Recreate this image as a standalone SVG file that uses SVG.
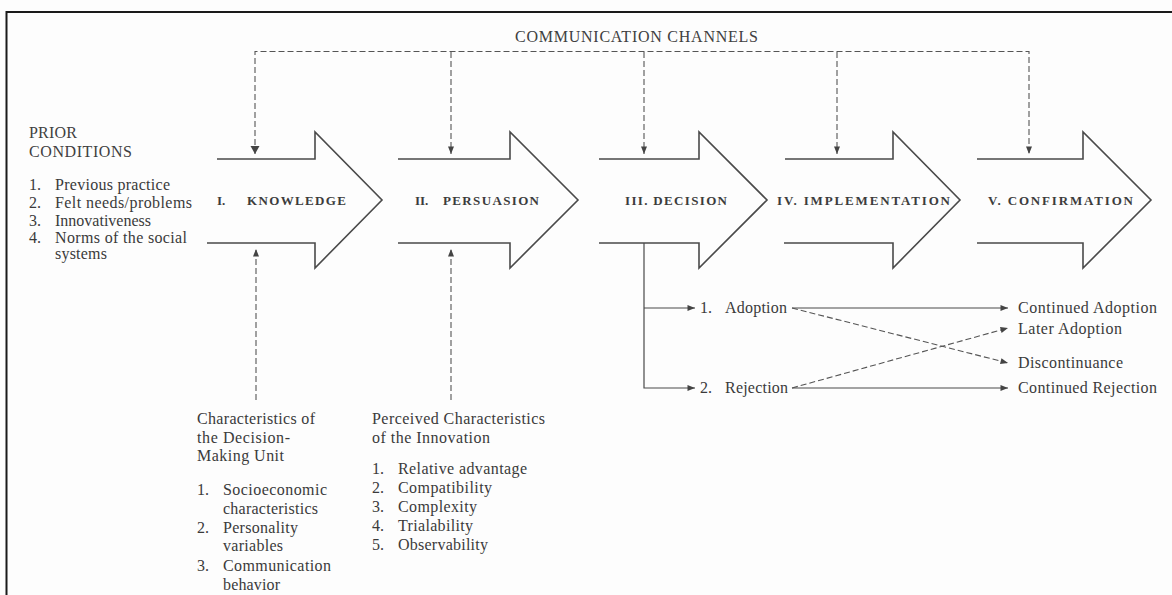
<svg xmlns="http://www.w3.org/2000/svg" width="1172" height="595" viewBox="0 0 1172 595">
<defs>
<marker id="ah" viewBox="0 0 10 8" refX="10" refY="4" markerWidth="9" markerHeight="6" orient="auto" markerUnits="userSpaceOnUse"><path d="M0,0 L10,4 L0,8 Z" fill="#444"/></marker>
</defs>
<style>
.t{font-family:"Liberation Serif","Times New Roman",serif;font-size:16px;fill:#3a3a3a}
.h{font-family:"Liberation Serif","Times New Roman",serif;font-size:16px;fill:#404040}
.b{font-family:"Liberation Serif","Times New Roman",serif;font-size:13px;font-weight:bold;fill:#3c3c3c}
.o{font-family:"Liberation Serif","Times New Roman",serif;font-size:16px;fill:#3a3a3a}
.arrow{fill:none;stroke:#4a4a4a;stroke-width:1.6;stroke-linejoin:miter}
.dash{fill:none;stroke:#555;stroke-width:1.1;stroke-dasharray:6 3}
.solid{fill:none;stroke:#4a4a4a;stroke-width:1.2}
.frame{fill:none;stroke:#1a1a1a;stroke-width:2}
</style>
<rect width="1172" height="595" fill="#fdfdfd"/>
<path class="frame" d="M6.5,595 V12 H1172"/>

<g id="comm-channels">
<text class="h" x="515" y="42" textLength="243" lengthAdjust="spacing">COMMUNICATION CHANNELS</text>
</g>

<g id="prior-conditions">
<text class="h" x="29" y="138" textLength="48" lengthAdjust="spacing">PRIOR</text>
<text class="h" x="29" y="157" textLength="103" lengthAdjust="spacing">CONDITIONS</text>
<text class="t" x="29" y="190">1.</text><text class="t" x="55" y="190" textLength="115" lengthAdjust="spacing">Previous practice</text>
<text class="t" x="29" y="208">2.</text><text class="t" x="55" y="208" textLength="137" lengthAdjust="spacing">Felt needs/problems</text>
<text class="t" x="29" y="226">3.</text><text class="t" x="55" y="226">Innovativeness</text>
<text class="t" x="29" y="243">4.</text><text class="t" x="55" y="243" textLength="132" lengthAdjust="spacing">Norms of the social</text>
<text class="t" x="55" y="259" textLength="52" lengthAdjust="spacing">systems</text>
</g>

<g id="knowledge">
<path class="arrow" d="M217,159 H315 V132 L382,200 L315,268 V243 H207"/>
<text class="b" x="217" y="205">I.</text>
<text class="b" x="247" y="205" textLength="99" lengthAdjust="spacing">KNOWLEDGE</text>
</g>

<g id="persuasion">
<path class="arrow" d="M398,159 H510 V132 L578,200 L510,268 V243 H398"/>
<text class="b" x="415" y="205">II.</text>
<text class="b" x="443" y="205" textLength="96" lengthAdjust="spacing">PERSUASION</text>
</g>

<g id="decision">
<path class="arrow" d="M599,159 H699 V132 L767,200 L699,268 V243 H599"/>
<text class="b" x="625" y="205" textLength="102" lengthAdjust="spacing">III. DECISION</text>
</g>

<g id="implementation">
<path class="arrow" d="M785,159 H893 V132 L960,200 L893,268 V243 H784"/>
<text class="b" x="777" y="205" textLength="173" lengthAdjust="spacing">IV. IMPLEMENTATION</text>
</g>

<g id="confirmation">
<path class="arrow" d="M977,159 H1083 V132 L1151,200 L1083,268 V243 H977"/>
<text class="b" x="988" y="205" textLength="145" lengthAdjust="spacing">V. CONFIRMATION</text>
</g>

<g id="dmu-characteristics">
<text class="t" x="197" y="424" textLength="118" lengthAdjust="spacing">Characteristics of</text>
<text class="t" x="197" y="443" textLength="93" lengthAdjust="spacing">the Decision-</text>
<text class="t" x="197" y="461" textLength="87" lengthAdjust="spacing">Making Unit</text>
<text class="t" x="197" y="495">1.</text><text class="t" x="223" y="495" textLength="104" lengthAdjust="spacing">Socioeconomic</text>
<text class="t" x="223" y="514" textLength="95" lengthAdjust="spacing">characteristics</text>
<text class="t" x="197" y="533">2.</text><text class="t" x="223" y="533" textLength="75" lengthAdjust="spacing">Personality</text>
<text class="t" x="223" y="551" textLength="60" lengthAdjust="spacing">variables</text>
<text class="t" x="197" y="571">3.</text><text class="t" x="223" y="571" textLength="108" lengthAdjust="spacing">Communication</text>
<text class="t" x="223" y="590" textLength="57" lengthAdjust="spacing">behavior</text>
</g>

<g id="innovation-characteristics">
<text class="t" x="372" y="424" textLength="173" lengthAdjust="spacing">Perceived Characteristics</text>
<text class="t" x="372" y="443" textLength="118" lengthAdjust="spacing">of the Innovation</text>
<text class="t" x="372" y="474">1.</text><text class="t" x="398" y="474" textLength="129" lengthAdjust="spacing">Relative advantage</text>
<text class="t" x="372" y="493">2.</text><text class="t" x="398" y="493" textLength="94" lengthAdjust="spacing">Compatibility</text>
<text class="t" x="372" y="512">3.</text><text class="t" x="398" y="512" textLength="79" lengthAdjust="spacing">Complexity</text>
<text class="t" x="372" y="531">4.</text><text class="t" x="398" y="531" textLength="75" lengthAdjust="spacing">Trialability</text>
<text class="t" x="372" y="550">5.</text><text class="t" x="398" y="550" textLength="90" lengthAdjust="spacing">Observability</text>
</g>

<g id="adoption">
<text class="o" x="700" y="313">1.</text>
<text class="o" x="725" y="313" textLength="62" lengthAdjust="spacing">Adoption</text>
</g>
<g id="rejection">
<text class="o" x="700" y="393">2.</text>
<text class="o" x="725" y="393" textLength="63" lengthAdjust="spacing">Rejection</text>
</g>
<g id="continued-adoption"><text class="o" x="1018" y="313" textLength="139" lengthAdjust="spacing">Continued Adoption</text></g>
<g id="later-adoption"><text class="o" x="1018" y="334" textLength="104" lengthAdjust="spacing">Later Adoption</text></g>
<g id="discontinuance"><text class="o" x="1018" y="368" textLength="105" lengthAdjust="spacing">Discontinuance</text></g>
<g id="continued-rejection"><text class="o" x="1018" y="393" textLength="139" lengthAdjust="spacing">Continued Rejection</text></g>

<g id="connectors">
<path class="dash" d="M255,154 V51.5 H1029 V154" marker-end="url(#ah)"/>
<path class="dash" d="M451,52 V154" marker-end="url(#ah)"/>
<path class="dash" d="M644,52 V154" marker-end="url(#ah)"/>
<path class="dash" d="M837,52 V154" marker-end="url(#ah)"/>
<path d="M250.5,146 L255,154 L259.5,146 Z" fill="#444"/>
<path class="dash" d="M256,400 V249" marker-end="url(#ah)"/>
<path class="dash" d="M451,400 V249" marker-end="url(#ah)"/>
<path class="solid" d="M644,243 V388 H695" marker-end="url(#ah)"/>
<path class="solid" d="M644,308 H695" marker-end="url(#ah)"/>
<path class="solid" d="M792,308 H1008" marker-end="url(#ah)"/>
<path class="solid" d="M792,388 H1008" marker-end="url(#ah)"/>
<path class="dash" d="M792,308 L1008,363" marker-end="url(#ah)"/>
<path class="dash" d="M792,388 L1008,328" marker-end="url(#ah)"/>
</g>
</svg>
